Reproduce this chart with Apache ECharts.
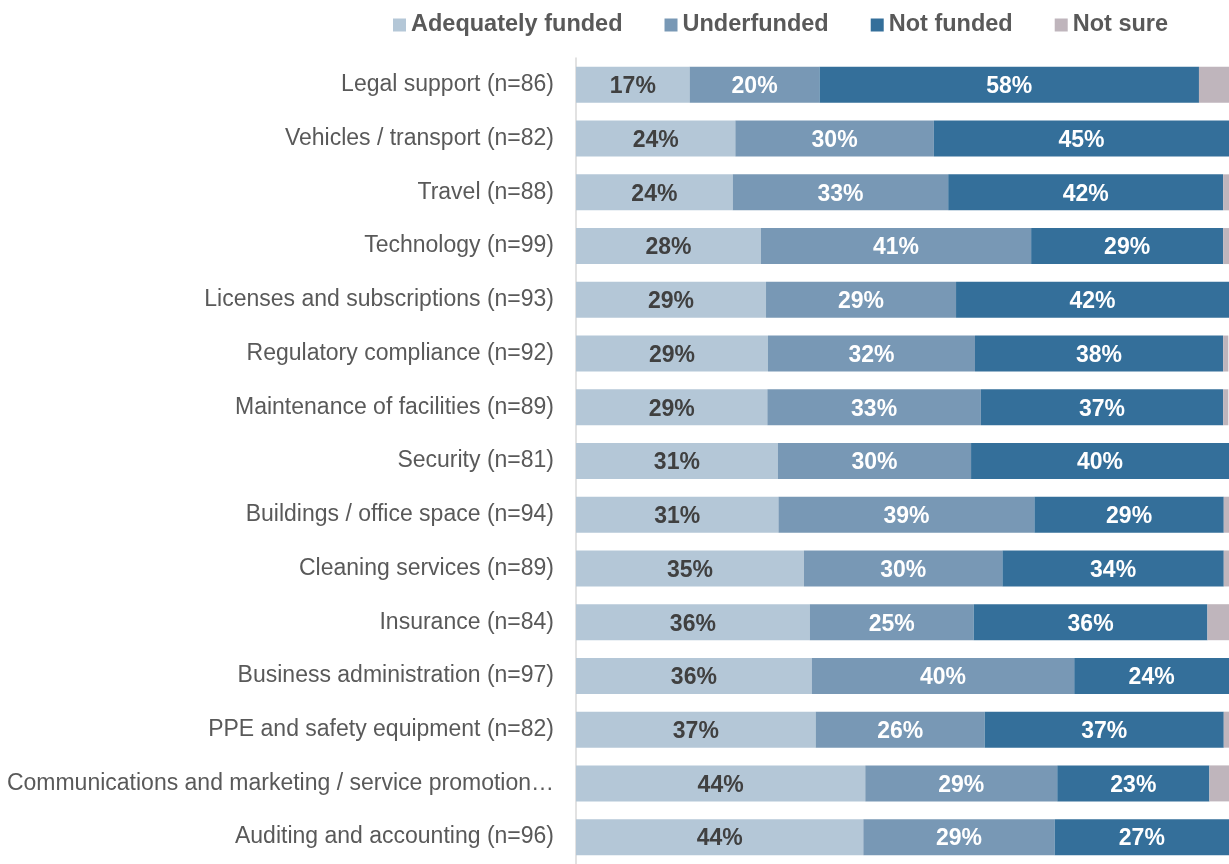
<!DOCTYPE html>
<html>
<head>
<meta charset="utf-8">
<style>
	html, body { margin: 0; padding: 0; background: #fff; }
	#chart { width: 1229px; height: 864px; }
</style>
<script src="https://cdn.jsdelivr.net/npm/echarts@6/dist/echarts.min.js"></script>
</head>
<body>
<div id="chart"></div>
<script>
	// categories, top to bottom
	var categories = [
		'Legal support (n=86)',
		'Vehicles / transport (n=82)',
		'Travel (n=88)',
		'Technology (n=99)',
		'Licenses and subscriptions (n=93)',
		'Regulatory compliance (n=92)',
		'Maintenance of facilities (n=89)',
		'Security (n=81)',
		'Buildings / office space (n=94)',
		'Cleaning services (n=89)',
		'Insurance (n=84)',
		'Business administration (n=97)',
		'PPE and safety equipment (n=82)',
		'Communications and marketing / service promotion\u2026',
		'Auditing and accounting (n=96)'
	];
	var adequatelyFunded = [17.4, 24.4, 24.0, 28.3, 29.1, 29.4, 29.3, 30.9, 31.0, 34.9, 35.8, 36.1, 36.7, 44.3, 44.0];
	var underfunded      = [19.9, 30.4, 33.0, 41.4, 29.1, 31.7, 32.7, 29.6, 39.2, 30.4, 25.1, 40.2, 25.9, 29.4, 29.3];
	var notFunded        = [58.1, 45.2, 42.1, 29.4, 41.8, 38.0, 37.1, 39.5, 29.0, 33.9, 35.8, 23.7, 36.6, 23.3, 26.7];
	var notSure          = [4.6, 0, 0.9, 0.9, 0, 0.8, 0.8, 0, 0.8, 0.8, 3.3, 0, 0.9, 3.0, 0];

	var font = 'Liberation Sans, Arial, sans-serif';

	function bar(name, data, color, labelColor) {
		return {
			name: name,
			type: 'bar',
			stack: 'total',
			barWidth: 36,
			data: data,
			itemStyle: { color: color },
			label: {
				show: labelColor != null,
				position: 'inside',
				offset: [0, 2],
				formatter: function (p) { return Math.round(p.value) + '%'; },
				color: labelColor || '#fff',
				fontFamily: font,
				fontWeight: 'bold',
				fontSize: 23
			}
		};
	}

	var chart = echarts.init(document.getElementById('chart'));
	var option = {
		backgroundColor: '#fff',
		animation: false,
		legend: {
			left: 388,
			top: 8,
			itemWidth: 13,
			itemHeight: 13,
			itemGap: 42,
			icon: 'rect',
			textStyle: {
				color: '#595959',
				fontFamily: font,
				fontWeight: 'bold',
				fontSize: 23.5
			}
		},
		grid: {
			left: 576,
			right: 0,
			top: 58,
			height: 815
		},
		xAxis: {
			type: 'value',
			min: 0,
			max: 100,
			show: false
		},
		yAxis: {
			type: 'category',
			inverse: true,
			data: categories,
			axisLine: { lineStyle: { color: '#d9d9d9', width: 1.5 } },
			axisTick: { show: false },
			axisLabel: {
				margin: 22,
				padding: [4, 0, 0, 0],
				color: '#595959',
				fontFamily: font,
				fontSize: 23
			}
		},
		series: [
			bar('Adequately funded', adequatelyFunded, '#b4c7d7', '#404040'),
			bar('Underfunded', underfunded, '#7898b5', '#ffffff'),
			bar('Not funded', notFunded, '#346f9a', '#ffffff'),
			bar('Not sure', notSure, '#bfb5bc', null)
		]
	};
	chart.setOption(option);
</script>
</body>
</html>
